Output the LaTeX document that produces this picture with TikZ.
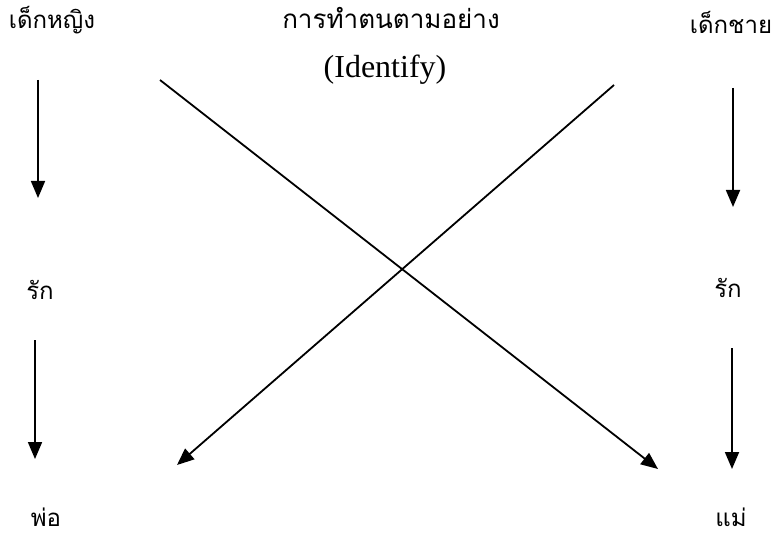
\documentclass[tikz,border=0pt]{standalone}
\usepackage{fontspec}
\setmainfont{Liberation Serif}
\newfontfamily\thaifont[Script=Thai]{Loma}
\usetikzlibrary{arrows.meta}
\tikzset{
  thai/.style={font=\thaifont\fontsize{24}{28}\selectfont, inner sep=0pt},
  thaititle/.style={font=\thaifont\fontsize{26}{30}\selectfont, inner sep=0pt},
  eng/.style={font=\fontsize{32}{36}\selectfont, inner sep=0pt},
  arr/.style={line width=1.8pt, -{Triangle[length=17pt,width=14pt]}}
}
\begin{document}
\begin{tikzpicture}[x=1pt,y=-1pt]
\useasboundingbox (0,0) rectangle (773,537);
\node[thai] (girl) at (52,20) {เด็กหญิง};
\node[thaititle] (title) at (391,18) {การทำตนตามอย่าง};
\node[eng] (ident) at (385,70) {(Identify)};
\node[thai] (boy) at (731,22) {เด็กชาย};
\node[thai] (loveL) at (40,290) {รัก};
\node[thai] (loveR) at (728,288) {รัก};
\node[thai, anchor=base] (dad) at (46,526) {พ่อ};
\node[thai, anchor=base] (mom) at (731,526) {แม่};
\coordinate (a1s) at (38,80);  \coordinate (a1e) at (38,198);
\coordinate (a2s) at (35,340); \coordinate (a2e) at (35,459);
\coordinate (b1s) at (733,88); \coordinate (b1e) at (733,207);
\coordinate (b2s) at (732,348);\coordinate (b2e) at (732,469);
\coordinate (d1s) at (160,80); \coordinate (d1e) at (658,469);
\coordinate (d2s) at (614,85); \coordinate (d2e) at (177,465);
\draw[arr] (a1s) -- (a1e);
\draw[arr] (a2s) -- (a2e);
\draw[arr] (b1s) -- (b1e);
\draw[arr] (b2s) -- (b2e);
\draw[arr] (d1s) -- (d1e);
\draw[arr] (d2s) -- (d2e);
\end{tikzpicture}
\end{document}
